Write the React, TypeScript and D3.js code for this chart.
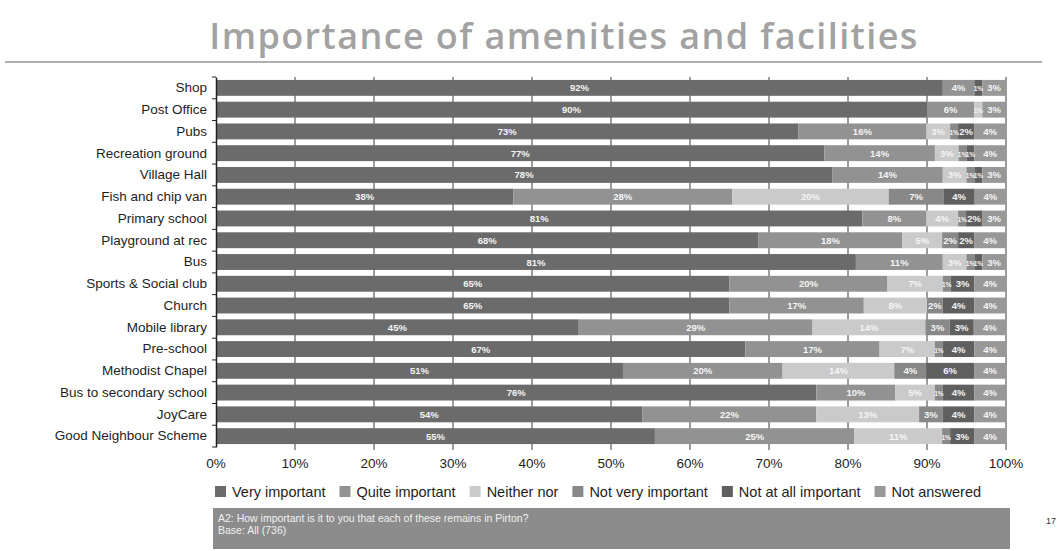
import React, { useRef, useEffect } from 'react';
import * as d3 from 'd3';

const categories = [
  'Shop', 'Post Office', 'Pubs', 'Recreation ground', 'Village Hall', 'Fish and chip van',
  'Primary school', 'Playground at rec', 'Bus', 'Sports & Social club', 'Church',
  'Mobile library', 'Pre-school', 'Methodist Chapel', 'Bus to secondary school',
  'JoyCare', 'Good Neighbour Scheme',
];

const veryImportant = [92, 90, 73, 77, 78, 38, 81, 68, 81, 65, 65, 45, 67, 51, 76, 54, 55];
const quiteImportant = [4, 6, 16, 14, 14, 28, 8, 18, 11, 20, 17, 29, 17, 20, 10, 22, 25];
const neitherNor = [0, 1, 3, 3, 3, 20, 4, 5, 3, 7, 8, 14, 7, 14, 5, 13, 11];
const notVeryImportant = [0, 0, 1, 1, 1, 7, 1, 2, 1, 1, 2, 3, 1, 4, 1, 3, 1];
const notAtAllImportant = [1, 0, 2, 1, 1, 4, 2, 2, 1, 3, 4, 3, 4, 6, 4, 4, 3];
const notAnswered = [3, 3, 4, 4, 3, 4, 3, 4, 3, 4, 4, 4, 4, 4, 4, 4, 4];

const seriesNames = [
  'Very important', 'Quite important', 'Neither nor',
  'Not very important', 'Not at all important', 'Not answered',
];
const seriesValues = [veryImportant, quiteImportant, neitherNor, notVeryImportant, notAtAllImportant, notAnswered];
const seriesColors = ['#6b6b6b', '#929292', '#cacaca', '#888888', '#5f5f5f', '#989898'];

const xTicks = [0, 0.1, 0.2, 0.3, 0.4, 0.5, 0.6, 0.7, 0.8, 0.9, 1];

const W = 1061;
const H = 551;
const font = 'Liberation Sans, Arial, sans-serif';

export default function App() {
  const svgRef = useRef<SVGSVGElement | null>(null);

  useEffect(() => {
    if (!svgRef.current) return;
    const svg = d3.select(svgRef.current);
    svg.selectAll('*').remove();

    const margin = { top: 77, left: 216, right: 1006, bottom: 447 };

    const rows = categories.map((c, i) => {
      const r: any = { category: c };
      seriesNames.forEach((s, j) => { r[s] = seriesValues[j][i]; });
      return r;
    });

    const stacked = d3.stack<any>()
      .keys(seriesNames)
      .offset(d3.stackOffsetExpand)(rows);

    const x = d3.scaleLinear().domain([0, 1]).range([margin.left, margin.right]);
    const y = d3.scaleBand().domain(categories).range([margin.top, margin.bottom]).paddingInner(0.27).paddingOuter(0.135);

    // title
    svg.append('text')
      .attr('x', 564).attr('y', 49)
      .attr('text-anchor', 'middle')
      .attr('font-family', 'Open Sans')
      .attr('font-size', 36)
      .attr('font-weight', 600)
      .attr('letter-spacing', 1.4)
      .attr('fill', '#a2a2a2')
      .text('Importance of amenities and facilities');

    svg.append('line')
      .attr('x1', 5).attr('x2', 1042).attr('y1', 62).attr('y2', 62)
      .attr('stroke', '#b0b0b0').attr('stroke-width', 2);

    // gridlines
    svg.append('g')
      .selectAll('line')
      .data(xTicks.slice(1))
      .join('line')
      .attr('x1', d => x(d)).attr('x2', d => x(d))
      .attr('y1', margin.top).attr('y2', margin.bottom + 3)
      .attr('stroke', '#3a3a3a').attr('stroke-width', 1);

    // bars
    const layers = svg.append('g')
      .selectAll('g')
      .data(stacked)
      .join('g')
      .attr('fill', (_, i) => seriesColors[i]);

    layers.selectAll('rect')
      .data(d => d)
      .join('rect')
      .attr('x', d => x(d[0]))
      .attr('y', d => y(d.data.category)!)
      .attr('width', d => x(d[1]) - x(d[0]))
      .attr('height', y.bandwidth());

    // segment labels
    stacked.forEach((layer, i) => {
      svg.append('g')
        .selectAll('text')
        .data(layer.filter(d => d.data[seriesNames[i]] > 0))
        .join('text')
        .attr('x', d => (x(d[0]) + x(d[1])) / 2)
        .attr('y', d => y(d.data.category)! + y.bandwidth() / 2 + 3.5)
        .attr('text-anchor', 'middle')
        .attr('font-family', font)
        .attr('font-size', d => (d.data[seriesNames[i]] <= 1 ? 6.5 : 9.5))
        .attr('font-weight', 'bold')
        .attr('fill', '#f4f4f4')
        .text(d => `${d.data[seriesNames[i]]}%`);
    });

    // left axis
    const yAxis = svg.append('g')
      .attr('transform', `translate(${margin.left},0)`)
      .call(d3.axisLeft(y).tickSize(0).tickPadding(9));
    yAxis.select('.domain').attr('stroke', '#222').attr('stroke-width', 1.5);
    yAxis.selectAll('text')
      .attr('font-family', font)
      .attr('font-size', 13.5)
      .attr('fill', '#1e1e1e');

    // ticks between categories
    svg.append('g')
      .selectAll('line')
      .data(d3.range(categories.length + 1))
      .join('line')
      .attr('x1', margin.left - 4).attr('x2', margin.left)
      .attr('y1', i => margin.top + i * y.step())
      .attr('y2', i => margin.top + i * y.step())
      .attr('stroke', '#222');

    // x tick labels
    svg.append('g')
      .selectAll('text')
      .data(xTicks)
      .join('text')
      .attr('x', d => x(d))
      .attr('y', 468)
      .attr('text-anchor', 'middle')
      .attr('font-family', font)
      .attr('font-size', 13.5)
      .attr('fill', '#1e1e1e')
      .text(d => d3.format('.0%')(d));

    // legend
    const legend = svg.append('g').attr('transform', 'translate(215,0)');
    let lx = 0;
    seriesNames.forEach((name, i) => {
      legend.append('rect')
        .attr('x', lx).attr('y', 486).attr('width', 11).attr('height', 11)
        .attr('fill', seriesColors[i]);
      const t = legend.append('text')
        .attr('x', lx + 17).attr('y', 497)
        .attr('font-family', font)
        .attr('font-size', 14.5)
        .attr('fill', '#1e1e1e')
        .text(name);
      lx += 17 + (t.node() as SVGTextElement).getComputedTextLength() + 14;
    });

    // footer box
    svg.append('rect')
      .attr('x', 213).attr('y', 508).attr('width', 797).attr('height', 41)
      .attr('fill', '#8c8c8c');
    svg.append('text')
      .attr('x', 218).attr('y', 522)
      .attr('font-family', font)
      .attr('font-size', 10.5)
      .attr('fill', '#f0f0f0')
      .text('A2: How important is it to you that each of these remains in Pirton?');
    svg.append('text')
      .attr('x', 218).attr('y', 534)
      .attr('font-family', font)
      .attr('font-size', 10.5)
      .attr('fill', '#f0f0f0')
      .text('Base: All (736)');
    svg.append('text')
      .attr('x', 1046).attr('y', 524)
      .attr('font-family', font)
      .attr('font-size', 9)
      .attr('fill', '#333')
      .text('17');
  }, []);

  return (
    <svg ref={svgRef} width={W} height={H} style={{ position: 'absolute', left: 0, top: 0, background: '#fff' }} />
  );
}
